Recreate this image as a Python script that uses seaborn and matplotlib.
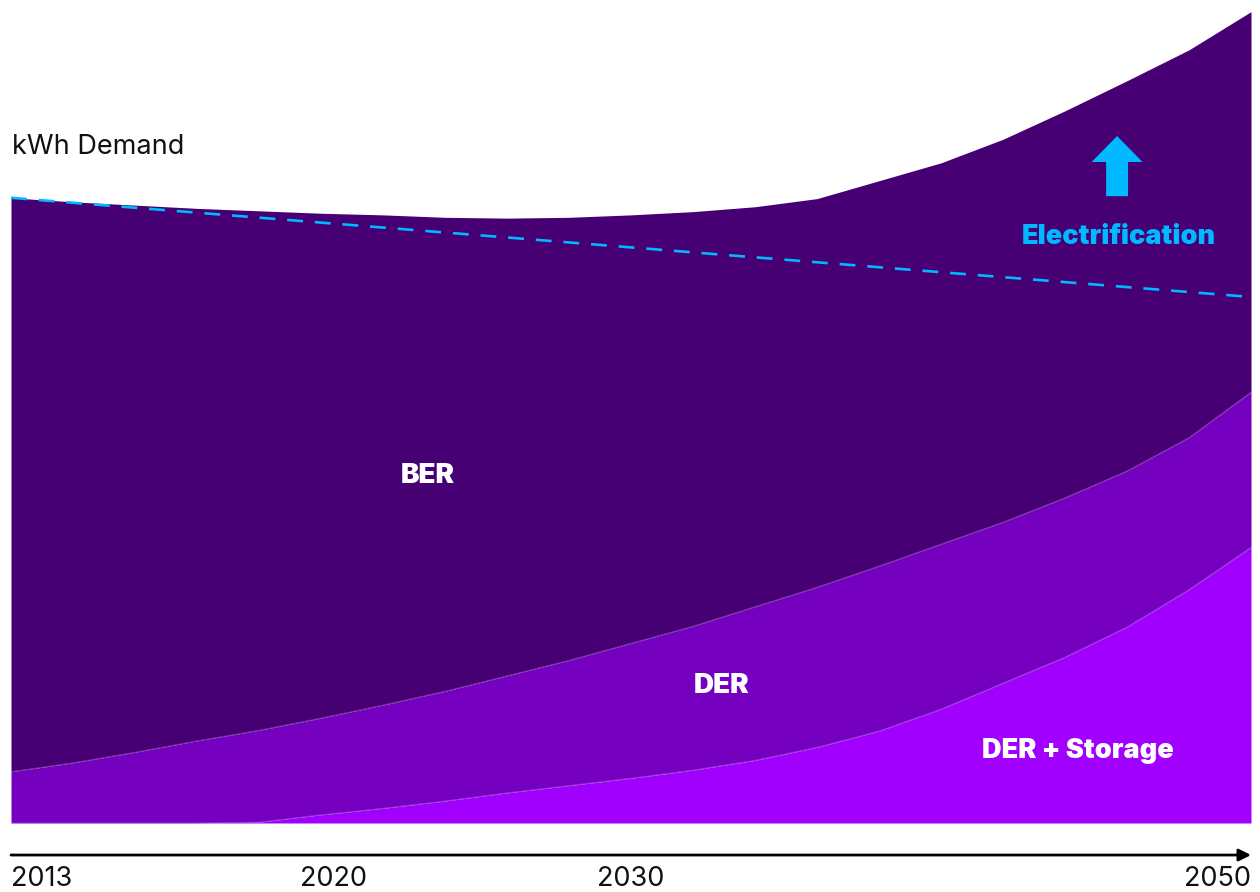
import numpy as np
import pandas as pd
import matplotlib
matplotlib.use("Agg")
import matplotlib.pyplot as plt
import seaborn as sns

# Timeline position (0 = 2013, 100 = 2050) and stacked layer values (kWh demand index)
position = [0, 5, 10, 15, 20, 25, 30, 35, 40, 45, 50, 55, 60, 65, 70, 75, 80, 85, 90, 95, 100]
der_storage = [0.0, 0.0, 0.0, 0.0, 0.1, 1.0, 1.8, 2.7, 3.7, 4.6, 5.5, 6.5, 7.7, 9.3, 11.3, 14.0, 17.2, 20.4, 24.1, 28.7, 33.9]
der = [6.3, 7.4, 8.7, 10.1, 11.3, 11.9, 12.7, 13.5, 14.4, 15.4, 16.6, 17.7, 18.9, 19.7, 20.3, 20.3, 19.8, 19.6, 19.2, 18.7, 19.1]
ber = [70.6, 69.0, 67.3, 65.5, 63.9, 62.1, 60.3, 58.3, 56.3, 54.5, 52.7, 51.0, 49.2, 47.8, 47.4, 46.9, 47.1, 47.6, 48.0, 47.7, 46.8]

# Demand without electrification (straight dashed reference)
baseline_position = [0, 100]
baseline_demand = [76.9, 64.7]

tick_positions = [0, 26, 50, 100]
tick_labels = ["2013", "2020", "2030", "2050"]

layer_names = ["DER + Storage", "DER", "BER"]
layer_colors = ["#A100FF", "#7500C0", "#460073"]
cyan = "#00B8FF"

sns.set_theme(style="white")
plt.rcParams["font.family"] = ["Inter", "DejaVu Sans"]

fig = plt.figure(figsize=(12.6, 8.92), dpi=100)
ax = fig.add_axes([11 / 1260, 69 / 892, 1240 / 1260, 813 / 892])

df = pd.DataFrame({"position": position, "DER + Storage": der_storage, "DER": der, "BER": ber})
lower = np.zeros(len(df))
for name, color in zip(layer_names, layer_colors):
    upper = lower + df[name].to_numpy()
    ax.fill_between(df["position"], lower, upper, color=color, linewidth=0, zorder=1)
    lower = upper

# Faint boundaries between stacked layers
bounds = pd.DataFrame({
    "position": position,
    "b1": np.array(der_storage),
    "b2": np.array(der_storage) + np.array(der),
})
sns.lineplot(data=bounds, x="position", y="b1", ax=ax, color="#C27BF0", lw=0.6, alpha=0.5, zorder=2)
sns.lineplot(data=bounds, x="position", y="b2", ax=ax, color="#B070E0", lw=0.6, alpha=0.5, zorder=2)

base = pd.DataFrame({"position": baseline_position, "demand": baseline_demand})
sns.lineplot(data=base, x="position", y="demand", ax=ax, color=cyan, lw=1.9,
             dashes=False, zorder=3).lines[-1].set_dashes((6, 4.5))

ax.set_xlim(0, 100)
ax.set_ylim(0, 100)
for s in ax.spines.values():
    s.set_visible(False)
ax.set_yticks([])
ax.set_xlabel("")
ax.set_ylabel("")
ax.set_xticks(tick_positions)
ax.set_xticklabels(tick_labels, fontsize=19.5, color="#111111")
ax.tick_params(axis="x", length=0, pad=31)
labels = ax.get_xticklabels()
labels[0].set_horizontalalignment("left")
labels[-1].set_horizontalalignment("right")

# Timeline arrow below the plot
ax.annotate("", xy=(1.0, -0.0394), xytext=(0.0, -0.0394), xycoords="axes fraction",
            textcoords="axes fraction",
            arrowprops=dict(arrowstyle="-|>", color="black", lw=2, mutation_scale=18,
                            shrinkA=0, shrinkB=0), annotation_clip=False)

bold = dict(fontweight=900, ha="center", va="center")
ax.text(0.1, 83.1, "kWh Demand", fontsize=19.5, color="#111111", ha="left", va="center")
ax.text(33.6, 42.7, "BER", color="white", fontsize=20, **bold)
ax.text(57.3, 16.9, "DER", color="white", fontsize=20, **bold)
ax.text(86.0, 8.9, "DER + Storage", color="white", fontsize=19.5, **bold)
ax.text(89.3, 72.1, "Electrification", color=cyan, fontsize=19.5, **bold)

ax.annotate("", xy=(89.2, 84.5), xytext=(89.2, 77.1),
            arrowprops=dict(arrowstyle="simple,head_length=18.7,head_width=36.7,tail_width=15.8",
                            mutation_scale=1, color=cyan, lw=0, shrinkA=0, shrinkB=0))

fig.savefig("out.png", dpi=100)
